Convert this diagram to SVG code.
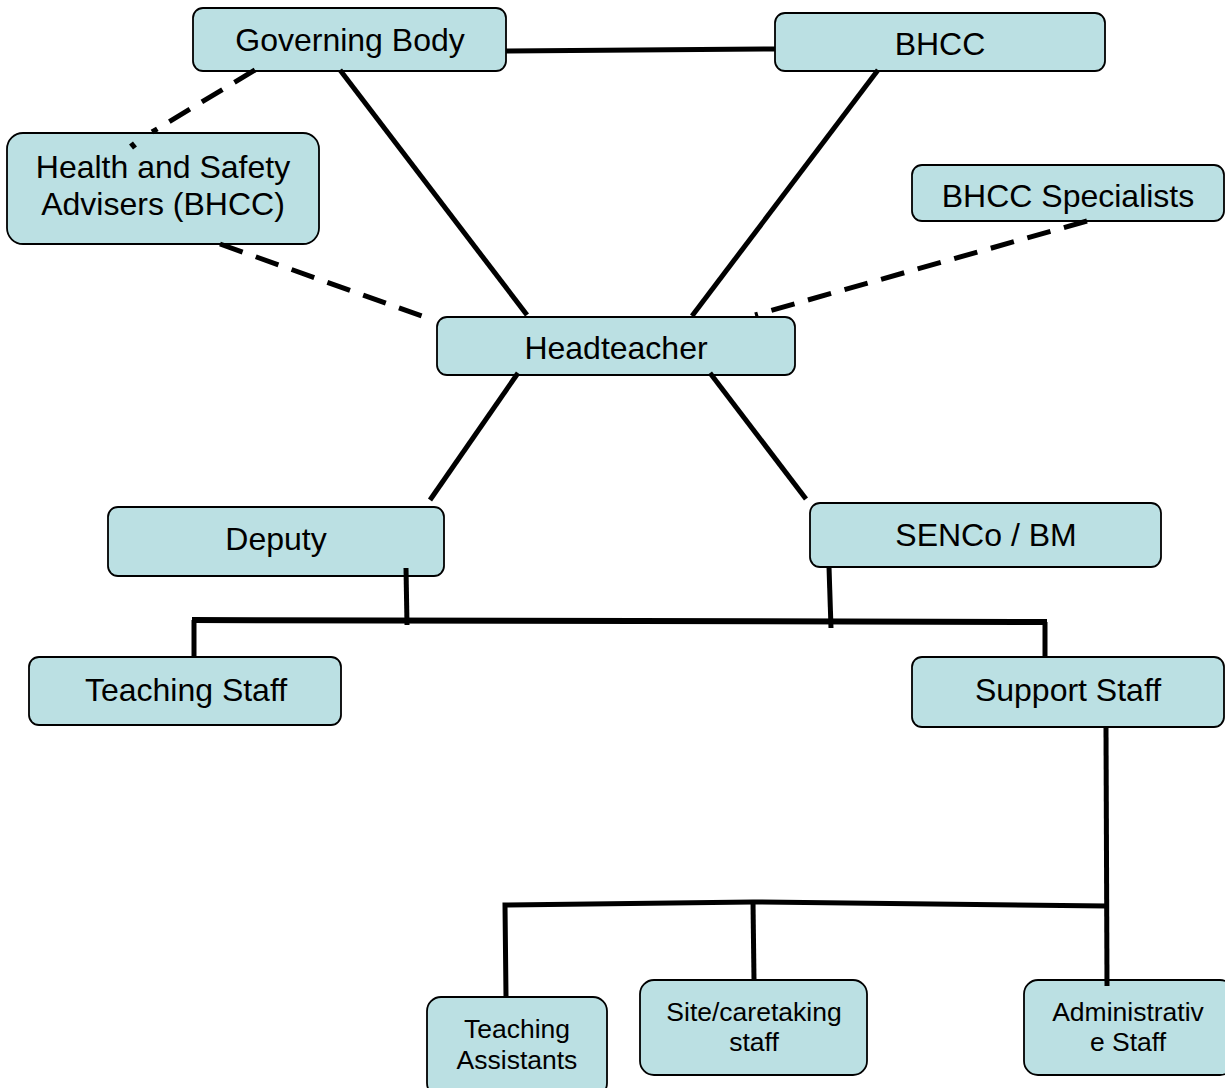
<svg xmlns="http://www.w3.org/2000/svg" width="1225" height="1088" viewBox="0 0 1225 1088">
<style>
.box{fill:#BBE0E3;stroke:#000;stroke-width:1.8}
.t{font-family:"Liberation Sans",Arial,sans-serif;font-size:32px;fill:#000;text-anchor:middle}
.s{font-size:26.5px}
.ln{stroke:#000;stroke-width:5;fill:none;stroke-linecap:butt}
.d{stroke-dasharray:24 14}
</style>
<rect width="1225" height="1088" fill="#fff"/>
<g id="governing-body"><rect class="box" x="193" y="8" width="313" height="63" rx="10"/><text class="t" x="350" y="51">Governing Body</text></g>
<g id="bhcc"><rect class="box" x="775" y="13" width="330" height="58" rx="10"/><text class="t" x="940" y="55">BHCC</text></g>
<g id="health-safety"><rect class="box" x="7" y="133" width="312" height="111" rx="16"/><text class="t" x="163" y="178">Health and Safety</text><text class="t" x="163" y="215">Advisers (BHCC)</text></g>
<g id="bhcc-specialists"><rect class="box" x="912" y="165" width="312" height="56" rx="10"/><text class="t" x="1068" y="207">BHCC Specialists</text></g>
<g id="headteacher"><rect class="box" x="437" y="317" width="358" height="58" rx="10"/><text class="t" x="616" y="359">Headteacher</text></g>
<g id="deputy"><rect class="box" x="108" y="507" width="336" height="69" rx="10"/><text class="t" x="276" y="550">Deputy</text></g>
<g id="senco"><rect class="box" x="810" y="503" width="351" height="64" rx="10"/><text class="t" x="986" y="546">SENCo / BM</text></g>
<g id="teaching-staff"><rect class="box" x="29" y="657" width="312" height="68" rx="10"/><text class="t" x="186" y="701">Teaching Staff</text></g>
<g id="support-staff"><rect class="box" x="912" y="657" width="312" height="70" rx="10"/><text class="t" x="1068" y="701">Support Staff</text></g>
<g id="teaching-assistants"><rect class="box" x="427" y="997" width="180" height="100" rx="14"/><text class="t s" x="517" y="1038">Teaching</text><text class="t s" x="517" y="1069">Assistants</text></g>
<g id="site-caretaking"><rect class="box" x="640" y="980" width="227" height="95" rx="14"/><text class="t s" x="754" y="1021">Site/caretaking</text><text class="t s" x="754" y="1051">staff</text></g>
<g id="administrative"><rect class="box" x="1024" y="980" width="210" height="95" rx="14"/><text class="t s" x="1128" y="1021">Administrativ</text><text class="t s" x="1128" y="1051">e Staff</text></g>
<g id="connectors">
<line class="ln" x1="506" y1="51" x2="775" y2="49"/>
<line class="ln" x1="340" y1="70" x2="527" y2="315"/>
<line class="ln" x1="878" y1="70" x2="692" y2="316"/>
<line class="ln d" x1="255" y1="70" x2="152" y2="132"/>
<line class="ln" x1="131" y1="143" x2="135" y2="148"/>
<line class="ln d" x1="220" y1="244" x2="422" y2="316"/>
<line class="ln d" x1="1087" y1="221" x2="755" y2="315"/>
<line class="ln" x1="518" y1="373" x2="430" y2="500"/>
<line class="ln" x1="710" y1="373" x2="806" y2="499"/>
<line class="ln" x1="406" y1="568" x2="407" y2="625"/>
<line class="ln" x1="829" y1="567" x2="831" y2="628"/>
<line class="ln" x1="192" y1="620" x2="1047" y2="622" style="stroke-width:6"/>
<line class="ln" x1="194" y1="620" x2="194" y2="658"/>
<line class="ln" x1="1045" y1="622" x2="1045" y2="658"/>
<line class="ln" x1="1106" y1="728" x2="1107" y2="986"/>
<polyline class="ln" points="506,996 505,905 753,902 1107,906"/>
<line class="ln" x1="753" y1="902" x2="754" y2="980"/>
</g>
</svg>
